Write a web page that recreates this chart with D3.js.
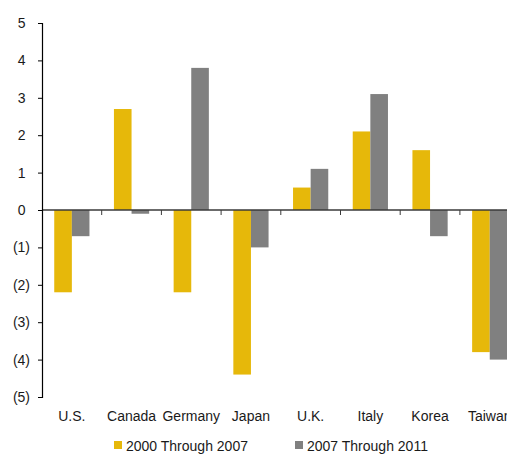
<!DOCTYPE html>
<html lang="en">
<head>
  <meta charset="UTF-8">
  <title>Change by country</title>
  <script src="https://d3js.org/d3.v7.min.js"></script>
  <style>
    body { margin: 0; background: #fff; }
    svg { display: block; font-family: "Liberation Sans", Arial, sans-serif; }
    .tick text, .cat, .legend text { font-size: 14px; fill: #1a1a1a; }
  </style>
</head>
<body>
  <script>
    const countries = ["U.S.", "Canada", "Germany", "Japan", "U.K.", "Italy", "Korea", "Taiwan"];
    const series = ["2000 Through 2007", "2007 Through 2011"];
    const colors = ["#E6B80A", "#808080"];
    const values2000to2007 = [-2.2, 2.7, -2.2, -4.4, 0.6, 2.1, 1.6, -3.8];
    const values2007to2011 = [-0.7, -0.1, 3.8, -1.0, 1.1, 3.1, -0.7, -4.0];
    const yTicks = [5, 4, 3, 2, 1, 0, -1, -2, -3, -4, -5];

    const W = 507, H = 455;
    const svg = d3.select("body").append("svg").attr("width", W).attr("height", H);

    const y = d3.scaleLinear().domain([-5, 5]).range([397, 23]);
    const x = d3.scaleBand().domain(countries).range([42, 519.6])
      .paddingInner(0.41).paddingOuter(0.205);
    const x1 = d3.scaleBand().domain(series).range([0, x.bandwidth()]);

    const rows = countries.map((c, i) => ({ c, v: [values2000to2007[i], values2007to2011[i]] }));

    // bars
    svg.append("g").selectAll("g")
      .data(rows)
      .join("g")
      .attr("transform", d => `translate(${x(d.c)},0)`)
      .selectAll("rect")
      .data(d => d.v.map((v, j) => ({ v, s: series[j], j })))
      .join("rect")
      .attr("x", d => x1(d.s))
      .attr("width", x1.bandwidth())
      .attr("y", d => y(Math.max(0, d.v)))
      .attr("height", d => Math.abs(y(d.v) - y(0)))
      .attr("fill", d => colors[d.j]);

    // zero line with category ticks
    const step = x.step();
    svg.append("line")
      .attr("x1", 42).attr("x2", 519.6)
      .attr("y1", y(0)).attr("y2", y(0))
      .attr("stroke", "#3a3a3a").attr("stroke-width", 1.5);
    svg.append("g").selectAll("line")
      .data(d3.range(1, countries.length))
      .join("line")
      .attr("x1", i => 42 + i * step).attr("x2", i => 42 + i * step)
      .attr("y1", y(0)).attr("y2", y(0) + 5)
      .attr("stroke", "#3a3a3a").attr("stroke-width", 1);

    // y axis
    const yAxis = svg.append("g")
      .attr("transform", "translate(42,0)")
      .call(d3.axisLeft(y).tickValues(yTicks).tickSize(4).tickPadding(8)
        .tickFormat(d => d < 0 ? `(${-d})` : `${d}`));
    yAxis.select(".domain").attr("stroke", "#000").attr("stroke-width", 1.2);
    yAxis.selectAll(".tick line").attr("stroke", "#000");
    yAxis.selectAll(".tick text")
      .attr("x", d => d < 0 ? -12 : -16.5)
      .style("font-size", "14px");

    // category labels
    svg.append("g").selectAll("text")
      .data(countries)
      .join("text")
      .attr("class", "cat")
      .attr("x", d => x(d) + x.bandwidth() / 2)
      .attr("y", 421)
      .attr("text-anchor", "middle")
      .text(d => d);

    // legend
    const legendX = [114, 295];
    const legend = svg.append("g").attr("class", "legend")
      .selectAll("g")
      .data(series)
      .join("g")
      .attr("transform", (d, i) => `translate(${legendX[i]},441)`);
    legend.append("rect").attr("width", 8).attr("height", 8)
      .attr("fill", (d, i) => colors[i]);
    legend.append("text").attr("x", 12).attr("y", 10).text(d => d);
  </script>
</body>
</html>
